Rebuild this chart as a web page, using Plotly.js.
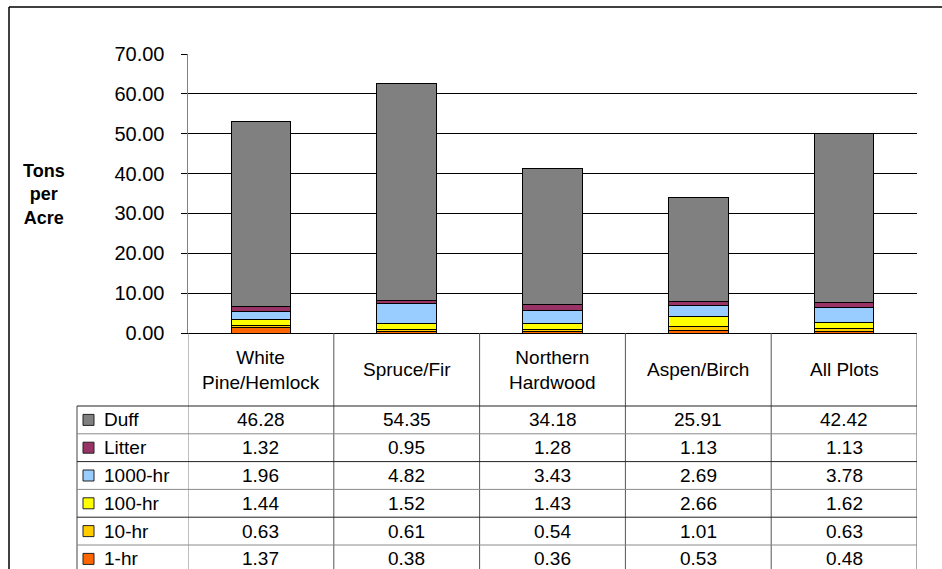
<!DOCTYPE html>
<html>
<head>
<meta charset="utf-8">
<script src="https://cdn.plot.ly/plotly-3.0.1.min.js"></script>
<style>
  html, body { margin: 0; padding: 0; background: #fff; }
  #chart { width: 942px; height: 569px; }
</style>
</head>
<body>
<div id="chart"></div>
<script>
// ---- Data ----
const categories = ["White Pine/Hemlock", "Spruce/Fir", "Northern Hardwood", "Aspen/Birch", "All Plots"];
const headerLabels = ["White<br>Pine/Hemlock", "Spruce/Fir", "Northern<br>Hardwood", "Aspen/Birch", "All Plots"];
const seriesNames = ["Duff", "Litter", "1000-hr", "100-hr", "10-hr", "1-hr"];
const duff   = [46.28, 54.35, 34.18, 25.91, 42.42];
const litter = [1.32, 0.95, 1.28, 1.13, 1.13];
const hr1000 = [1.96, 4.82, 3.43, 2.69, 3.78];
const hr100  = [1.44, 1.52, 1.43, 2.66, 1.62];
const hr10   = [0.63, 0.61, 0.54, 1.01, 0.63];
const hr1    = [1.37, 0.38, 0.36, 0.53, 0.48];
const seriesColors = ["#808080", "#993366", "#99CCFF", "#FFFF00", "#FFCC00", "#FF6600"];
const yTicks = [0, 10, 20, 30, 40, 50, 60, 70];

const seriesValues = [duff, litter, hr1000, hr100, hr10, hr1];

// ---- Geometry (pixels) ----
const W = 942, H = 569;
const L = 188, R = 917, T = 54, B = 333;
const pw = R - L, ph = B - T;
const px = v => (v - L) / pw;
const py = v => (B - v) / ph;
const headerBottom = 406;
const rowH = 27.8;
const legendLeft = 77;
const FONT = "Arial, 'Liberation Sans', sans-serif";

// ---- Traces (stack bottom to top: 1-hr ... Duff) ----
const traces = [];
for (let i = seriesNames.length - 1; i >= 0; i--) {
  traces.push({
    type: "bar",
    name: seriesNames[i],
    x: categories,
    y: seriesValues[i],
    marker: { color: seriesColors[i], line: { color: "#000000", width: 1 } },
    hoverinfo: "name+y",
    showlegend: false
  });
}

// ---- Shapes & annotations ----
const shapes = [];
const annotations = [];

// outer chart border (left and top)
shapes.push({ type: "line", xref: "paper", yref: "paper", x0: px(9), x1: px(9), y0: py(7), y1: py(H + 5), line: { color: "#000", width: 1.5 } });
shapes.push({ type: "line", xref: "paper", yref: "paper", x0: px(9), x1: px(W + 5), y0: py(7), y1: py(7), line: { color: "#000", width: 1.5 } });

// table vertical lines at category boundaries (from axis downward)
for (let c = 0; c <= categories.length; c++) {
  shapes.push({ type: "line", xref: "x", yref: "paper", x0: c - 0.5, x1: c - 0.5, y0: py(B), y1: py(H + 5),
    line: { color: c === 0 ? "#808080" : "#555555", width: 1 } });
}
// legend column left border
shapes.push({ type: "line", xref: "paper", yref: "paper", x0: px(legendLeft), x1: px(legendLeft), y0: py(headerBottom), y1: py(H + 5), line: { color: "#444", width: 1 } });

// horizontal row lines
for (let r = 0; r < seriesNames.length; r++) {
  const yy = headerBottom + r * rowH;
  shapes.push({ type: "line", xref: "paper", yref: "paper", x0: px(legendLeft), x1: 1, y0: py(yy), y1: py(yy),
    line: { color: r % 2 === 0 ? "#222222" : "#8a8a8a", width: 1 } });
}

// category header labels
categories.forEach((c, i) => {
  annotations.push({ xref: "x", yref: "paper", x: c, y: py((B + headerBottom) / 2), text: headerLabels[i],
    showarrow: false, xanchor: "center", yanchor: "middle", align: "center",
    font: { family: FONT, size: 19, color: "#000" } });
});

// data rows
seriesNames.forEach((s, r) => {
  const yc = py(headerBottom + rowH * (r + 0.5));
  // legend key
  shapes.push({ type: "rect", xref: "paper", yref: "paper", x0: px(83), x1: px(94), y0: yc - 5.5 / ph, y1: yc + 5.5 / ph,
    fillcolor: seriesColors[r], line: { color: "#222", width: 1 } });
  annotations.push({ xref: "paper", yref: "paper", x: px(102), y: yc, text: s, showarrow: false,
    xanchor: "left", yanchor: "middle", font: { family: FONT, size: 19, color: "#000" } });
  seriesValues[r].forEach((v, i) => {
    annotations.push({ xref: "x", yref: "paper", x: categories[i], y: yc, text: v.toFixed(2), showarrow: false,
      xanchor: "center", yanchor: "middle", font: { family: FONT, size: 19, color: "#000" } });
  });
});

// y-axis title
annotations.push({ xref: "paper", yref: "paper", x: px(44), y: py(194), text: "<b>Tons<br>per<br>Acre</b>",
  showarrow: false, xanchor: "center", yanchor: "middle", align: "center",
  font: { family: FONT, size: 18, color: "#000" } });

const layout = {
  width: W, height: H,
  margin: { l: L, r: W - R, t: T, b: H - B, pad: 0 },
  paper_bgcolor: "#ffffff",
  plot_bgcolor: "#ffffff",
  barmode: "stack",
  bargap: 0.59,
  showlegend: false,
  font: { family: FONT, color: "#000" },
  xaxis: {
    type: "category",
    range: [-0.5, categories.length - 0.5],
    showticklabels: false,
    ticks: "",
    showgrid: false,
    zeroline: false,
    showline: true,
    linecolor: "#000",
    linewidth: 1,
    fixedrange: true
  },
  yaxis: {
    range: [0, 70],
    tickvals: yTicks,
    tickformat: ".2f",
    ticks: "outside",
    ticklen: 6,
    tickcolor: "#000",
    tickwidth: 1,
    ticklabelstandoff: 12,
    tickfont: { family: FONT, size: 20, color: "#000" },
    showgrid: true,
    gridcolor: "#000",
    gridwidth: 1,
    zeroline: false,
    showline: true,
    linecolor: "#808080",
    linewidth: 1.5,
    fixedrange: true
  },
  shapes: shapes,
  annotations: annotations
};

Plotly.newPlot("chart", traces, layout, { staticPlot: true, displayModeBar: false });
</script>
</body>
</html>
